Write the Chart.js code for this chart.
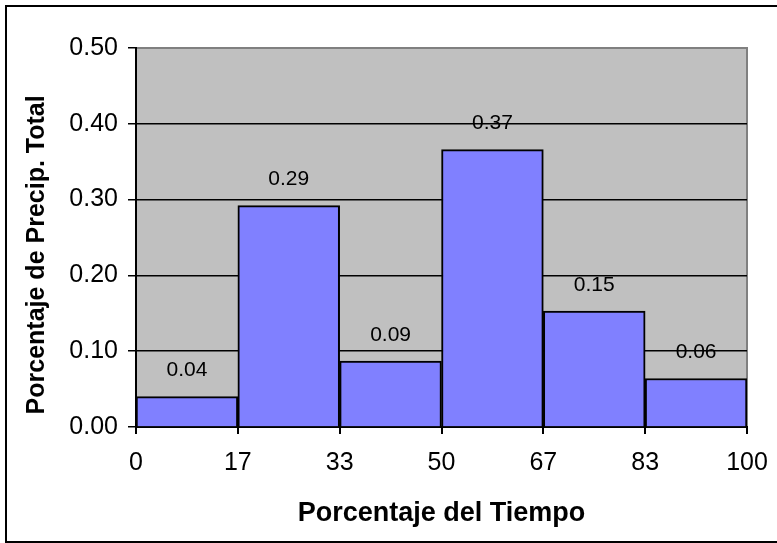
<!DOCTYPE html>
<html>
<head>
<meta charset="utf-8">
<script src="https://cdn.jsdelivr.net/npm/chart.js@4.4.1/dist/chart.umd.min.js"></script>
<style>
  body { margin: 0; background: #fff; overflow: hidden; }
  #wrap { position: relative; width: 777px; height: 543px; overflow: hidden; }
  #frame { position: absolute; left: 5px; top: 5px; width: 790px; height: 538px; border-style: solid; border-color: #000; border-width: 2px 0 2px 2px; box-sizing: border-box; pointer-events: none; }
</style>
</head>
<body>
<div id="wrap">
  <canvas id="histChart" width="777" height="543"></canvas>
  <div id="frame"></div>
</div>
<script>
// bin edges on the time axis (%) and their labels
const binEdges = [0, 16.67, 33.33, 50, 66.67, 83.33, 100];
const edgeLabels = ['0', '17', '33', '50', '67', '83', '100'];
// share of total precipitation in each bin
const precipShare = [0.040, 0.292, 0.087, 0.366, 0.153, 0.064];

const FONT = '"Liberation Sans", Arial, sans-serif';

const plotBg = {
    id: 'plotBg',
    beforeDraw(chart) {
        const { ctx, chartArea: a } = chart;
        ctx.save();
        ctx.fillStyle = '#c0c0c0';
        ctx.fillRect(a.left, a.top, a.right - a.left, a.bottom - a.top);
        ctx.strokeStyle = '#808080';
        ctx.lineWidth = 2;
        ctx.beginPath();
        ctx.moveTo(a.left, a.top);
        ctx.lineTo(a.right, a.top);
        ctx.lineTo(a.right, a.bottom);
        ctx.stroke();
        ctx.restore();
    }
};

const barValues = {
    id: 'barValues',
    afterDatasetsDraw(chart) {
        const { ctx } = chart;
        const meta = chart.getDatasetMeta(0);
        ctx.save();
        ctx.font = '21px ' + FONT;
        ctx.fillStyle = '#000';
        ctx.textAlign = 'center';
        ctx.textBaseline = 'middle';
        meta.data.forEach((bar, i) => {
            ctx.fillText(precipShare[i].toFixed(2), bar.x, bar.y - 26);
        });
        ctx.restore();
    }
};

const points = precipShare.map((v, i) => ({ x: (binEdges[i] + binEdges[i + 1]) / 2, y: v }));

const ctx = document.getElementById('histChart').getContext('2d');

const histChart = new Chart(ctx, {
    type: 'bar',
    data: {
        datasets: [{
            data: points,
            backgroundColor: '#8080ff',
            borderColor: '#000',
            borderWidth: 2,
            barPercentage: 1,
            categoryPercentage: 1
        }]
    },
    options: {
        responsive: false,
        animation: false,
        devicePixelRatio: 1,
        layout: {
            padding: { left: 0, top: 48, right: 30, bottom: 0 }
        },
        scales: {
            x: {
                type: 'linear',
                min: 0,
                max: 100,
                offset: false,
                afterBuildTicks: (scale) => {
                    scale.ticks = binEdges.map(v => ({ value: v }));
                },
                afterFit: (scale) => {
                    scale.height = 116;
                    scale.paddingLeft = 0;
                    scale.paddingRight = 0;
                },
                grid: {
                    offset: false,
                    drawOnChartArea: false,
                    drawTicks: true,
                    tickLength: 7,
                    color: '#000',
                    lineWidth: 2
                },
                border: { color: '#000', width: 2 },
                ticks: {
                    autoSkip: false,
                    maxRotation: 0,
                    padding: 14,
                    color: '#000',
                    font: { family: FONT, size: 25 },
                    callback: (value, index) => edgeLabels[index]
                },
                title: {
                    display: true,
                    text: 'Porcentaje del Tiempo',
                    color: '#000',
                    font: { family: FONT, size: 27, weight: 'bold', lineHeight: 1 },
                    padding: { top: 0, bottom: 15.5 }
                }
            },
            y: {
                min: 0,
                max: 0.5,
                afterFit: (scale) => {
                    scale.width = 136;
                },
                grid: {
                    color: (c) => (c.tick && c.tick.value > 0.49 ? '#808080' : '#000'),
                    tickColor: '#000',
                    lineWidth: 1.5,
                    tickLength: 8
                },
                border: { color: '#000', width: 2 },
                ticks: {
                    stepSize: 0.1,
                    padding: 10,
                    color: '#000',
                    font: { family: FONT, size: 25 },
                    callback: (value) => value.toFixed(2)
                },
                title: {
                    display: true,
                    text: 'Porcentaje de Precip. Total     ',
                    color: '#000',
                    font: { family: FONT, size: 25, weight: 'bold', lineHeight: 1 },
                    padding: { top: 25, bottom: 0 }
                }
            }
        },
        plugins: {
            legend: { display: false },
            tooltip: { enabled: false }
        }
    },
    plugins: [plotBg, barValues]
});
</script>
</body>
</html>
